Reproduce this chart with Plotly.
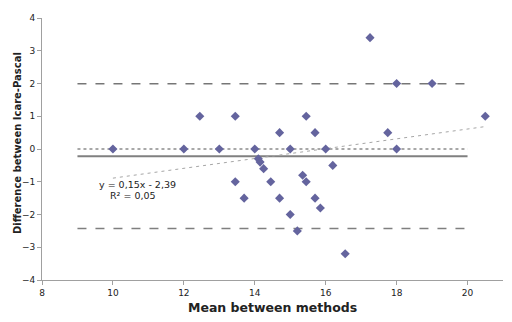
import plotly.graph_objects as go

mean_methods = [10, 12, 12.45, 13, 13.45, 13.45, 13.7, 14, 14.1, 14.15, 14.25, 14.45,
                14.7, 14.7, 15, 15, 15.2, 15.35, 15.45, 15.45, 15.7, 15.7, 15.85, 16,
                16.2, 16.55, 17.25, 17.75, 18, 18, 19, 20.5]
differences = [0, 0, 1, 0, 1, -1, -1.5, 0, -0.3, -0.4, -0.6, -1,
               0.5, -1.5, 0, -2, -2.5, -0.8, 1, -1, 0.5, -1.5, -1.8, 0,
               -0.5, -3.2, 3.4, 0.5, 2, 0, 2, 1]

bias = -0.22
upper_loa = 1.99
lower_loa = -2.43
line_x = [9, 20]
slope, intercept = 0.15, -2.39
trend_x = [10, 20.5]
trend_y = [slope * x + intercept for x in trend_x]

# figure size compensates for the 8px default body margin of the page
W, H = 504, 314
L, R, T, B = 34, 9, 10, 42
pw, ph = W - L - R, H - T - B

fig = go.Figure()
fig.add_trace(go.Scatter(x=line_x, y=[0, 0], mode="lines",
                         line=dict(color="#8c8c8c", width=1.5, dash="dot"), hoverinfo="skip"))
fig.add_trace(go.Scatter(x=line_x, y=[upper_loa] * 2, mode="lines",
                         line=dict(color="#333333", width=1, dash="dash"), hoverinfo="skip"))
fig.add_trace(go.Scatter(x=line_x, y=[lower_loa] * 2, mode="lines",
                         line=dict(color="#7f7f7f", width=1.5, dash="dash"), hoverinfo="skip"))
fig.add_trace(go.Scatter(x=line_x, y=[bias] * 2, mode="lines",
                         line=dict(color="#808080", width=2), hoverinfo="skip"))
fig.add_trace(go.Scatter(x=trend_x, y=trend_y, mode="lines",
                         line=dict(color="#a6a6a6", width=1, dash="3px,4px"), hoverinfo="skip"))
fig.add_trace(go.Scatter(x=mean_methods, y=differences, mode="markers",
                         marker=dict(symbol="diamond", size=7, color="#64649e")))

fig.add_annotation(x=9.55, y=-1.09, xref="x", yref="y", xanchor="left", yanchor="middle",
                   text="y = 0,15x - 2,39", showarrow=False,
                   font=dict(family="DejaVu Sans", size=9.5, color="#222222"))
fig.add_annotation(x=9.87, y=-1.41, xref="x", yref="y", xanchor="left", yanchor="middle",
                   text="R² = 0,05", showarrow=False,
                   font=dict(family="DejaVu Sans", size=9.5, color="#222222"))

# axis titles placed in figure pixel coords (page coords minus 8px body margin)
fx, fy = 272 - 8, 307 - 8
fig.add_annotation(x=(fx - L) / pw, y=(H - B - fy) / ph, xref="paper", yref="paper",
                   text="<b>Mean between methods</b>",
                   showarrow=False, xanchor="center", yanchor="middle",
                   font=dict(family="DejaVu Sans", size=12.5, color="#222222"))
gx, gy = 17 - 8, 143 - 8
fig.add_annotation(x=(gx - L) / pw, y=(H - B - gy) / ph, xref="paper", yref="paper",
                   text="<b>Difference between Icare-Pascal</b>",
                   showarrow=False, xanchor="center", yanchor="middle", textangle=-90,
                   font=dict(family="DejaVu Sans", size=10, color="#222222"))

fig.update_layout(
    width=W, height=H,
    margin=dict(l=L, r=R, t=T, b=B, autoexpand=False),
    paper_bgcolor="white", plot_bgcolor="white",
    showlegend=False,
    font=dict(family="DejaVu Sans", size=9, color="#222222"),
    xaxis=dict(range=[8, 21], tickvals=[8, 10, 12, 14, 16, 18, 20], showgrid=False, zeroline=False,
               showline=True, linecolor="#a0a0a0", linewidth=1, ticks="outside", ticklen=4,
               tickcolor="#a0a0a0", automargin=False),
    yaxis=dict(range=[-4, 4], tickvals=[-4, -3, -2, -1, 0, 1, 2, 3, 4], showgrid=False, zeroline=False,
               showline=True, linecolor="#a0a0a0", linewidth=1, ticks="outside", ticklen=4,
               tickcolor="#a0a0a0", automargin=False),
)

fig.write_html("out.html")
